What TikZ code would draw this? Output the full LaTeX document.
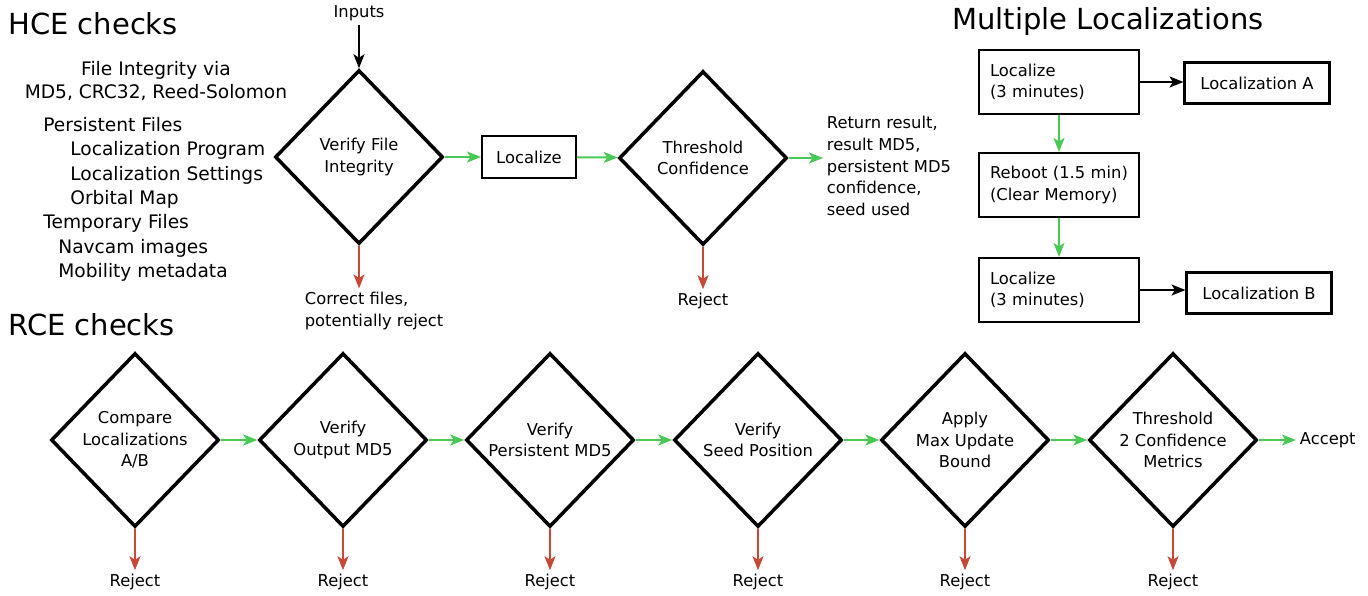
\documentclass[tikz,border=0pt]{standalone}
\usepackage{fontspec}
\setmainfont{DejaVu Sans}
\usepackage{xcolor}
\usetikzlibrary{shapes.geometric, arrows.meta}
\definecolor{passgreen}{RGB}{72,200,84}
\definecolor{failred}{RGB}{200,72,56}
\tikzstyle{decision} = [diamond, aspect=1, inner sep=-0.1cm, minimum width=3.36cm, minimum height=3.48cm, text centered, align=center, draw=black, line width=2pt, font=\fontsize{9.3}{12.3}\selectfont]
\tikzstyle{process} = [rectangle, draw=black, line width=1.2pt, font=\fontsize{9.3}{12.3}\selectfont]
\tikzstyle{timed} = [process, minimum width=3.2cm, minimum height=1.28cm, text width=2.76cm, inner xsep=0.22cm, align=left]
\tikzstyle{result} = [process, minimum width=2.9cm, minimum height=0.82cm]
\tikzstyle{heading} = [anchor=west, inner sep=0, font=\fontsize{16.5}{20}\selectfont]
\tikzstyle{note} = [inner sep=2pt, align=left, font=\fontsize{9.3}{12.3}\selectfont]
\tikzstyle{listitem} = [anchor=west, inner sep=0, text height=0.76em, text depth=0.24em, font=\fontsize{10.6}{13}\selectfont]
\tikzstyle{arrow} = [line width=1.1pt,->,>={Stealth[length=0.28cm, width=0.22cm, inset=0.07cm]}]
\tikzstyle{pass} = [arrow, draw=passgreen]
\tikzstyle{fail} = [arrow, draw=failred]

\begin{document}
\begin{tikzpicture}[x=0.02cm, y=-0.02cm]
    \useasboundingbox (0,0) rectangle (1368,595);

    % headings
    \node (hce_title) [heading] at (8,24) {HCE checks};
    \node (rce_title) [heading] at (8,325) {RCE checks};
    \node (multi_title) [heading] at (952,22) {Multiple Localizations};

    % what the file check covers
    \node (via1) [listitem, anchor=center] at (156,71) {File Integrity via};
    \node (via2) [listitem, anchor=center] at (156,94) {MD5, CRC32, Reed-Solomon};
    \node (persist) [listitem] at (43,127) {Persistent Files};
    \node (loc_prog) [listitem] at (70,151) {Localization Program};
    \node (loc_set) [listitem] at (70,176) {Localization Settings};
    \node (orb_map) [listitem] at (70,200) {Orbital Map};
    \node (temp) [listitem] at (43,224) {Temporary Files};
    \node (navcam) [listitem] at (58,249) {Navcam images};
    \node (mobility) [listitem] at (58,273) {Mobility metadata};

    % HCE flow
    \node (inputs) [note] at (359,13) {Inputs};
    \node (verify_file) [decision] at (359,157) {Verify File\\Integrity};
    \node (localize) [process, minimum width=1.88cm, minimum height=0.84cm] at (529,157) {Localize};
    \node (thresh_conf) [decision] at (703,158) {Threshold\\Confidence};
    \node (ret_result) [note, anchor=west] at (823,166) {Return result,\\result MD5,\\persistent MD5\\confidence,\\seed used};
    \node (correct) [note, anchor=west] at (301,311) {Correct files,\\potentially reject};
    \node (reject0) [note] at (703,301) {Reject};

    \draw [arrow] (inputs) -- (verify_file.north);
    \draw [pass] (verify_file) -- (localize);
    \draw [pass] (localize) -- (thresh_conf);
    \draw [pass] (thresh_conf.east) -- (thresh_conf.east -| ret_result.west);
    \draw [fail] (verify_file.south) -- (verify_file.south |- correct.north);
    \draw [fail] (thresh_conf.south) -- (reject0);

    % multiple localizations
    \node (loc_a) [timed] at (1059,82) {Localize\\(3 minutes)};
    \node (reboot) [timed] at (1059,185) {Reboot (1.5 min)\\(Clear Memory)};
    \node (loc_b) [timed] at (1059,290) {Localize\\(3 minutes)};
    \node (res_a) [result] at (1257,83) {Localization A};
    \node (res_b) [result] at (1259,293) {Localization B};

    \draw [arrow] (loc_a.east) -- (loc_a.east -| res_a.west);
    \draw [arrow] (loc_b.east) -- (loc_b.east -| res_b.west);
    \draw [pass] (loc_a) -- (reboot);
    \draw [pass] (reboot) -- (loc_b);

    % RCE flow
    \node (compare) [decision] at (135,440) {Compare\\Localizations\\A/B};
    \node (out_md5) [decision] at (343,440) {Verify\\Output MD5};
    \node (pers_md5) [decision] at (550,440) {Verify\\Persistent MD5};
    \node (seed_pos) [decision] at (758,440) {Verify\\Seed Position};
    \node (max_upd) [decision] at (965,440) {Apply\\Max Update\\Bound};
    \node (thresh_two) [decision] at (1173,440) {Threshold\\2 Confidence\\Metrics};
    \node (accept) [note, anchor=west] at (1296,440) {Accept};
    \node (reject1) [note] at (135,582) {Reject};
    \node (reject2) [note] at (343,582) {Reject};
    \node (reject3) [note] at (550,582) {Reject};
    \node (reject4) [note] at (758,582) {Reject};
    \node (reject5) [note] at (965,582) {Reject};
    \node (reject6) [note] at (1173,582) {Reject};

    \draw [pass] (compare) -- (out_md5);
    \draw [pass] (out_md5) -- (pers_md5);
    \draw [pass] (pers_md5) -- (seed_pos);
    \draw [pass] (seed_pos) -- (max_upd);
    \draw [pass] (max_upd) -- (thresh_two);
    \draw [pass] (thresh_two) -- (accept);
    \draw [fail] (compare) -- (reject1);
    \draw [fail] (out_md5) -- (reject2);
    \draw [fail] (pers_md5) -- (reject3);
    \draw [fail] (seed_pos) -- (reject4);
    \draw [fail] (max_upd) -- (reject5);
    \draw [fail] (thresh_two) -- (reject6);
\end{tikzpicture}
\end{document}
